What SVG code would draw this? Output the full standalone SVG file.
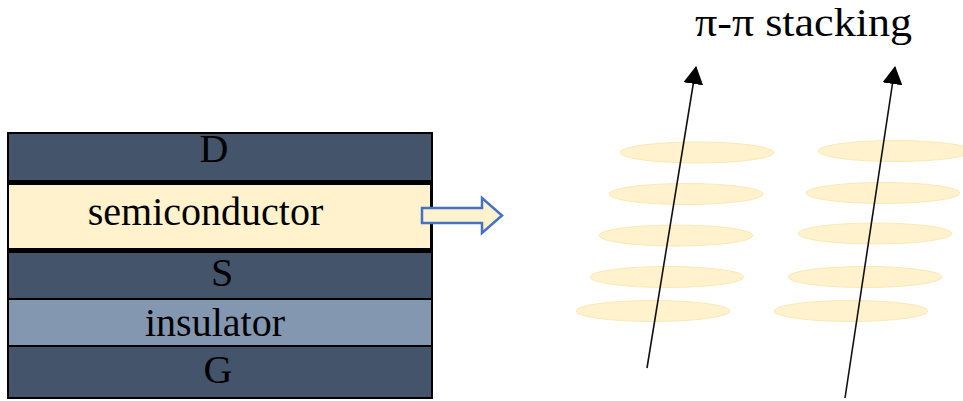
<svg xmlns="http://www.w3.org/2000/svg" width="963" height="401" viewBox="0 0 963 401">
  <style>
    .lbl { font-family: "Liberation Serif", "Times New Roman", serif; font-size: 40px; fill: #000; text-anchor: middle; }
    .dark { fill: #44546a; }
    .semi { fill: #fff2cc; }
    .ins { fill: #8497b0; }
    .disc { fill: #fff2cc; stroke: #fbe8b8; stroke-width: 1; filter: url(#soft); }
    .axis { stroke: #111; stroke-width: 1.6; fill: none; marker-end: url(#tip); }
  </style>
  <defs>
    <filter id="soft" x="-10%" y="-50%" width="120%" height="200%">
      <feGaussianBlur stdDeviation="0.6"/>
    </filter>
    <marker id="tip" viewBox="0 0 18 20" refX="17" refY="10" markerWidth="18" markerHeight="20" markerUnits="userSpaceOnUse" orient="auto">
      <path d="M0,0 L18,10 L0,20 Z" fill="#000"/>
    </marker>
  </defs>

  <!-- transistor layer stack -->
  <g id="stack-frame">
    <rect x="7" y="132" width="426" height="267" fill="#000"/>
  </g>
  <g id="drain">
    <rect class="dark" x="9" y="134" width="422" height="46"/>
    <text class="lbl" x="214" y="162">D</text>
  </g>
  <g id="semiconductor">
    <rect class="semi" x="9" y="185" width="421" height="63"/>
    <text class="lbl" x="205.5" y="225">semiconductor</text>
  </g>
  <g id="source">
    <rect class="dark" x="9" y="253" width="422" height="45"/>
    <text class="lbl" x="222" y="286">S</text>
  </g>
  <g id="insulator">
    <rect class="ins" x="9" y="300" width="422" height="45"/>
    <text class="lbl" x="215" y="336">insulator</text>
  </g>
  <g id="gate">
    <rect class="dark" x="9" y="347" width="422" height="50"/>
    <text class="lbl" x="218" y="383">G</text>
  </g>

  <!-- stacked molecular discs -->
  <g id="discs-left">
    <ellipse class="disc" cx="697" cy="152.5" rx="77" ry="10.5"/>
    <ellipse class="disc" cx="686" cy="194" rx="77" ry="10.5"/>
    <ellipse class="disc" cx="676" cy="235.5" rx="77" ry="10.5"/>
    <ellipse class="disc" cx="667" cy="277" rx="77" ry="10.5"/>
    <ellipse class="disc" cx="653" cy="311" rx="77" ry="10.5"/>
  </g>
  <g id="discs-right">
    <ellipse class="disc" cx="895" cy="151" rx="77" ry="10.5"/>
    <ellipse class="disc" cx="883" cy="193" rx="77" ry="10.5"/>
    <ellipse class="disc" cx="875" cy="233.5" rx="77" ry="10.5"/>
    <ellipse class="disc" cx="865" cy="277" rx="77" ry="10.5"/>
    <ellipse class="disc" cx="851" cy="311" rx="77" ry="10.5"/>
  </g>

  <g id="title">
    <text x="695" y="36" font-family="'Liberation Serif', 'Times New Roman', serif" font-size="41" textLength="217" lengthAdjust="spacingAndGlyphs">π-π stacking</text>
  </g>

  <!-- connectors -->
  <g id="connectors">
    <path d="M422,208 H482 V198 L502,215.5 L482,233 V223 H422 Z" fill="#fff2cc" stroke="#4472c4" stroke-width="2.5" stroke-linejoin="miter"/>
    <line class="axis" x1="647" y1="368" x2="696" y2="67"/>
    <line class="axis" x1="845" y1="398" x2="895" y2="67"/>
  </g>
</svg>
